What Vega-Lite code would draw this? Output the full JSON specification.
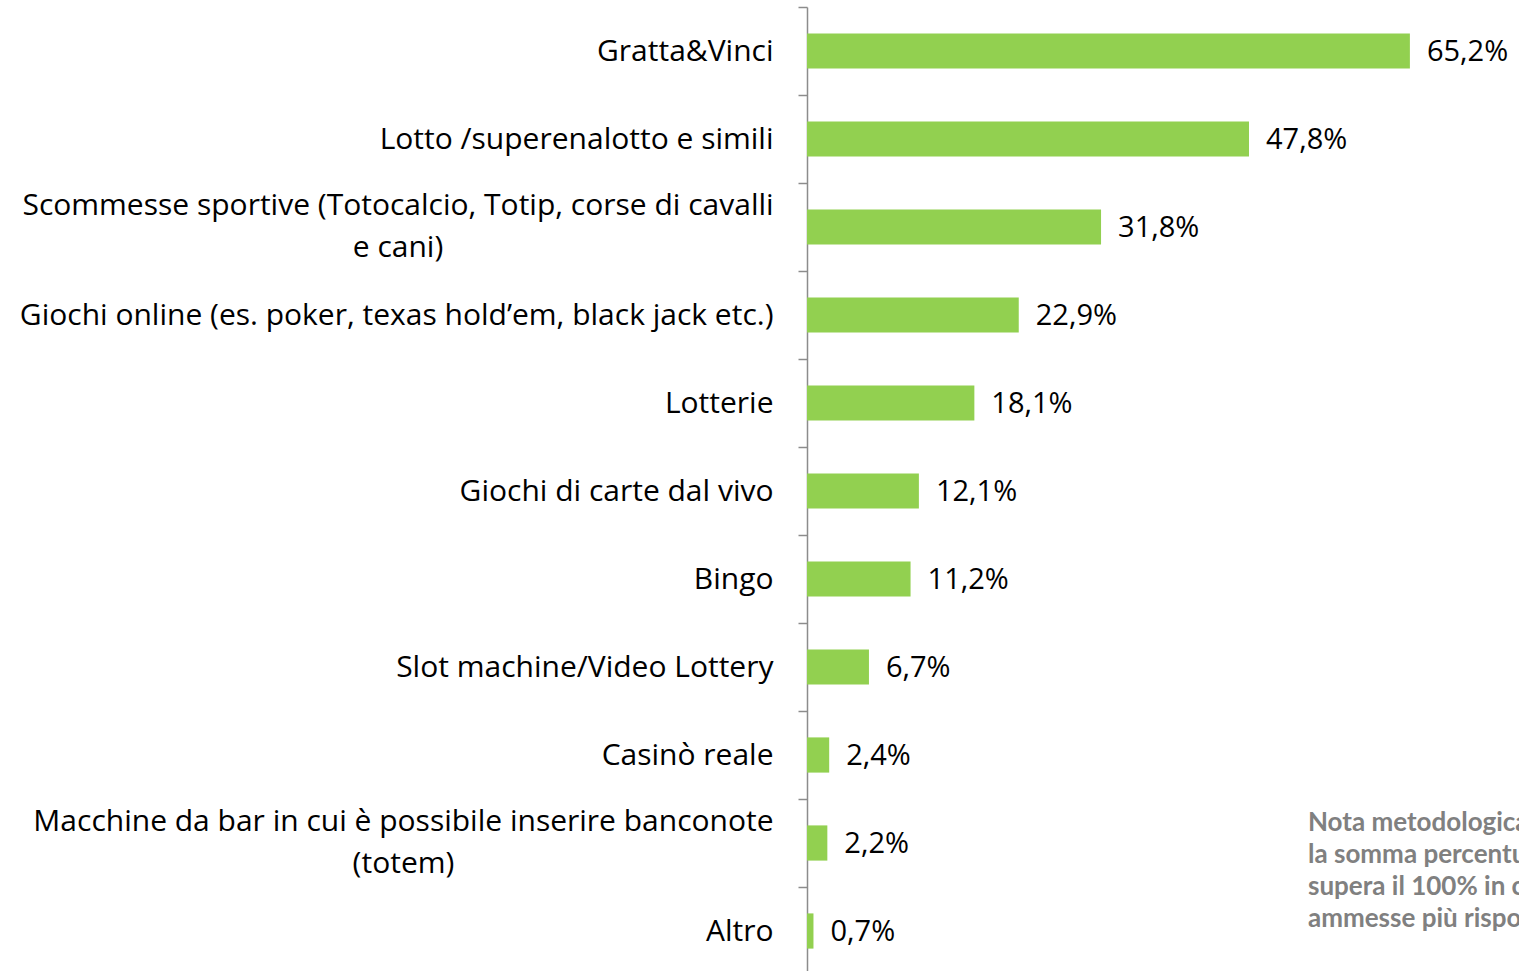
{
  "$schema": "https://vega.github.io/schema/vega-lite/v6.json",
  "autosize": "none",
  "padding": {"left": 807, "top": 7, "right": 0, "bottom": 0},
  "width": 712,
  "height": 968,
  "background": "white",
  "config": {
    "view": {"stroke": null}
  },
  "title": {
    "text": "Quale tipo di gioco gioca?",
    "anchor": "start",
    "frame": "group",
    "orient": "top",
    "baseline": "bottom",
    "offset": 0,
    "dx": -836,
    "dy": 3,
    "font": "Lato",
    "fontSize": 36,
    "fontWeight": "bold",
    "color": "#8c8c8c"
  },
  "data": {
    "values": [
      {"gioco": "Gratta&Vinci", "quota": 0.652, "etichetta": "65,2%"},
      {"gioco": "Lotto /superenalotto e simili", "quota": 0.478, "etichetta": "47,8%"},
      {"gioco": "Scommesse sportive (Totocalcio, Totip, corse di cavalli|e cani)", "quota": 0.318, "etichetta": "31,8%"},
      {"gioco": "Giochi online (es. poker, texas hold’em, black jack etc.)", "quota": 0.229, "etichetta": "22,9%"},
      {"gioco": "Lotterie", "quota": 0.181, "etichetta": "18,1%"},
      {"gioco": "Giochi di carte dal vivo", "quota": 0.121, "etichetta": "12,1%"},
      {"gioco": "Bingo", "quota": 0.112, "etichetta": "11,2%"},
      {"gioco": "Slot machine/Video Lottery", "quota": 0.067, "etichetta": "6,7%"},
      {"gioco": "Casinò reale", "quota": 0.024, "etichetta": "2,4%"},
      {"gioco": "Macchine da bar in cui è possibile inserire banconote|(totem)", "quota": 0.022, "etichetta": "2,2%"},
      {"gioco": "Altro", "quota": 0.007, "etichetta": "0,7%"}
    ]
  },
  "encoding": {
    "y": {
      "field": "gioco",
      "type": "nominal",
      "sort": null,
      "scale": {"paddingInner": 0, "paddingOuter": 0},
      "axis": {
        "title": null,
        "labelExpr": "indexof(datum.label, '|') >= 0 ? '' : datum.label",
        "labelFont": "Open Sans",
        "labelFontSize": 30,
        "labelColor": "#000000",
        "labelLimit": 900,
        "labelPadding": 25,
        "tickBand": "extent",
        "tickSize": 9,
        "tickColor": "#8c8c8c",
        "tickWidth": 1.5,
        "domainColor": "#8c8c8c",
        "domainWidth": 1.5,
        "grid": false
      }
    }
  },
  "layer": [
    {
      "mark": {"type": "bar", "color": "#92D050", "height": {"band": 0.4}},
      "encoding": {
        "x": {"field": "quota", "type": "quantitative", "scale": {"domain": [0, 0.77], "nice": false}, "axis": null}
      }
    },
    {
      "mark": {"type": "text", "align": "left", "baseline": "middle", "dx": 17, "dy": 1, "font": "Open Sans", "fontSize": 29, "color": "#000000"},
      "encoding": {
        "x": {"field": "quota", "type": "quantitative", "axis": null},
        "text": {"field": "etichetta", "type": "nominal"}
      }
    },
    {
      "transform": [{"filter": "indexof(datum.gioco, 'Scommesse') >= 0"}],
      "mark": {"type": "text", "align": "center", "baseline": "middle", "dy": -21, "font": "Open Sans", "fontSize": 30, "lineHeight": 42, "color": "#000000"},
      "encoding": {
        "x": {"datum": -0.4423, "type": "quantitative", "axis": null},
        "text": {"value": ["Scommesse sportive (Totocalcio, Totip, corse di cavalli", "e cani)"]}
      }
    },
    {
      "transform": [{"filter": "indexof(datum.gioco, 'Macchine') >= 0"}],
      "mark": {"type": "text", "align": "center", "baseline": "middle", "dy": -21, "font": "Open Sans", "fontSize": 30, "lineHeight": 42, "color": "#000000"},
      "encoding": {
        "x": {"datum": -0.4364, "type": "quantitative", "axis": null},
        "text": {"value": ["Macchine da bar in cui è possibile inserire banconote", "(totem)"]}
      }
    },
    {
      "transform": [{"filter": "indexof(datum.gioco, 'Macchine') >= 0"}],
      "mark": {"type": "text", "align": "left", "baseline": "top", "dy": -33, "font": "Lato", "fontSize": 26, "fontWeight": "bold", "lineHeight": 32, "color": "#808080"},
      "encoding": {
        "x": {"datum": 0.5418, "type": "quantitative", "axis": null},
        "text": {"value": ["Nota metodologica:", "la somma percentuale", "supera il 100% in caso di", "ammesse più risposte"]}
      }
    }
  ]
}
